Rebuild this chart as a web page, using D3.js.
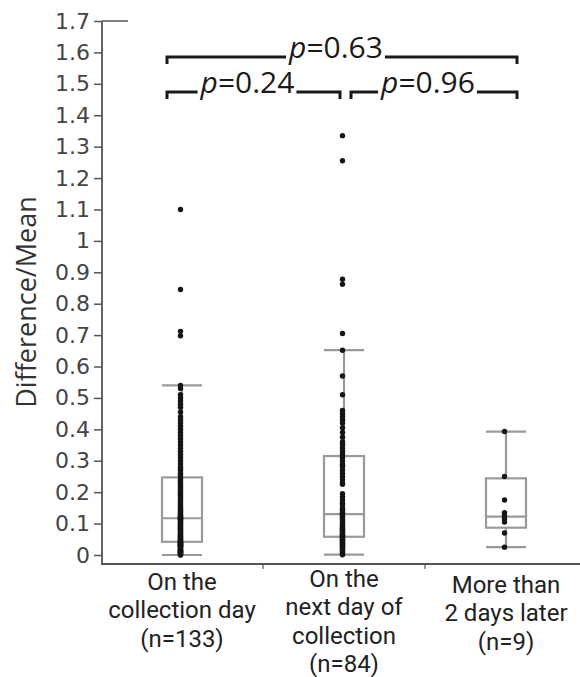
<!DOCTYPE html>
<html>
<head>
<meta charset="utf-8">
<script src="https://cdn.jsdelivr.net/npm/d3@7"></script>
<style>
  html, body { margin: 0; padding: 0; background: #fff; }
  svg { display: block; }
</style>
</head>
<body>
<svg id="chart" width="580" height="677"></svg>
<script>
// Categories and their multi-line axis labels
const categories = ["collection day", "next day", "2+ days later"];
const categoryLines = [
  ["On the", "collection day", "(n=133)"],
  ["On the", "next day of", "collection", "(n=84)"],
  ["More than", "2 days later", "(n=9)"]
];

// Box summaries (quartiles) per category
const q1Values = [0.042, 0.058, 0.087];
const medianValues = [0.117, 0.13, 0.122];
const q3Values = [0.247, 0.315, 0.244];

// Individual observations, Difference/Mean
const sameDay = [
  1.10, 0.845, 0.712, 0.698,
  0.54, 0.53, 0.51, 0.50, 0.49, 0.48, 0.47, 0.455, 0.44, 0.43,
  0.42, 0.41, 0.40, 0.39, 0.38, 0.37, 0.36, 0.35, 0.34, 0.33,
  0.32, 0.31, 0.30, 0.29, 0.28, 0.275, 0.27, 0.26, 0.255,
  0.245, 0.24, 0.235, 0.23, 0.225, 0.22, 0.215, 0.21, 0.205, 0.20,
  0.195, 0.19, 0.185, 0.18, 0.175, 0.17, 0.165, 0.16, 0.155, 0.15,
  0.147, 0.144, 0.14, 0.137, 0.134, 0.13, 0.127, 0.125, 0.123, 0.121,
  0.119, 0.118, 0.117, 0.116,
  0.114, 0.112, 0.11, 0.107, 0.105, 0.102, 0.10, 0.097, 0.095, 0.092,
  0.09, 0.087, 0.085, 0.082, 0.08, 0.077, 0.075, 0.072, 0.07, 0.067,
  0.065, 0.062, 0.06, 0.058, 0.056, 0.054, 0.052, 0.05, 0.048, 0.046,
  0.044, 0.043,
  0.041, 0.04, 0.039, 0.038, 0.037, 0.036, 0.035, 0.034, 0.033, 0.032,
  0.031, 0.03, 0.029, 0.028, 0.027, 0.026, 0.024, 0.022, 0.02, 0.018,
  0.016, 0.015, 0.014, 0.012, 0.011, 0.01, 0.009, 0.008, 0.006, 0.005,
  0.004, 0.002, 0.001, 0.0
];
const nextDay = [
  1.335, 1.255, 0.878, 0.862, 0.705, 0.652, 0.57, 0.51, 0.46, 0.45,
  0.44, 0.43, 0.42, 0.405, 0.39, 0.375, 0.36, 0.35, 0.34, 0.33, 0.32,
  0.31, 0.30, 0.29, 0.285, 0.28, 0.27, 0.26, 0.25, 0.24, 0.23, 0.225,
  0.195, 0.185, 0.175, 0.165, 0.16, 0.15, 0.145, 0.14, 0.135, 0.132,
  0.128, 0.125, 0.12, 0.115, 0.11, 0.105, 0.1, 0.096, 0.092, 0.088,
  0.085, 0.082, 0.079, 0.076, 0.073, 0.07, 0.067, 0.065, 0.063, 0.061, 0.059,
  0.057, 0.055, 0.052, 0.05, 0.047, 0.045, 0.042, 0.04, 0.037, 0.035,
  0.032, 0.03, 0.027, 0.025, 0.022, 0.02, 0.016, 0.012, 0.008, 0.004, 0.001
];
const laterDays = [0.393, 0.25, 0.175, 0.135, 0.125, 0.115, 0.105, 0.07, 0.025];
const observations = [sameDay, nextDay, laterDays];

// Pairwise comparisons
const compareFrom = [0, 0, 1];
const compareTo = [2, 1, 2];
const compareP = ["0.63", "0.24", "0.96"];
const compareRow = [1, 0, 0];

// Axis ticks
const yTicks = d3.range(0, 18).map(i => +(i / 10).toFixed(1));

// ---------- layout ----------
const svg = d3.select("#chart");
const axisX = 102, axisBottom = 564;
const y = d3.scaleLinear().domain([0, 1.7]).range([555, 21]);
const x = d3.scaleBand().domain(categories).range([101, 587]).padding(0);
const cx = i => x(categories[i]) + x.bandwidth() / 2;

const boxW = 40;
const boxStroke = "#9a9a9a";
const axisColor = "#555";
const labelFont = "Open Sans, Noto Sans, sans-serif";
const catFont = "Roboto, Open Sans, sans-serif";

// y axis
const yAxis = d3.axisLeft(y).tickValues(yTicks).tickSize(8).tickPadding(4)
  .tickFormat(d => d === 0 ? "0" : d === 1 ? "1" : d3.format(".1f")(d));
const gy = svg.append("g").attr("transform", `translate(${axisX},0)`).call(yAxis);
gy.select(".domain").remove();
gy.selectAll(".tick line").attr("stroke", axisColor).attr("stroke-width", 1.5);
gy.selectAll(".tick text")
  .attr("font-family", "DejaVu Sans, Verdana, sans-serif")
  .attr("font-size", 22).attr("fill", "#444");
svg.append("line").attr("x1", axisX).attr("x2", axisX)
  .attr("y1", y(1.7)).attr("y2", axisBottom)
  .attr("stroke", axisColor).attr("stroke-width", 1.8);
svg.append("line").attr("x1", axisX).attr("x2", 128)
  .attr("y1", y(1.7)).attr("y2", y(1.7))
  .attr("stroke", axisColor).attr("stroke-width", 1.5);

// x axis with separators between categories
svg.append("line").attr("x1", axisX - 1).attr("x2", 580)
  .attr("y1", axisBottom).attr("y2", axisBottom)
  .attr("stroke", axisColor).attr("stroke-width", 1.8);
categories.slice(1).forEach(c => {
  svg.append("line").attr("x1", x(c)).attr("x2", x(c))
    .attr("y1", axisBottom).attr("y2", axisBottom + 5)
    .attr("stroke", axisColor).attr("stroke-width", 1.2);
});

// y axis title
svg.append("text")
  .attr("transform", `translate(36,302) rotate(-90)`)
  .attr("text-anchor", "middle")
  .attr("font-family", labelFont)
  .attr("font-size", 27).attr("fill", "#333")
  .text("Difference/Mean");

// category labels
const labelTop = [590, 587, 593];
categoryLines.forEach((lines, i) => {
  lines.forEach((ln, k) => {
    svg.append("text")
      .attr("text-anchor", "middle")
      .attr("font-family", catFont)
      .attr("font-size", 24).attr("fill", "#222")
      .attr("x", cx(i)).attr("y", labelTop[i] + k * 28.3)
      .text(ln);
  });
});

// boxes, whiskers, points
observations.forEach((vals, i) => {
  const c = cx(i);
  const iqr = q3Values[i] - q1Values[i];
  const hiFence = q3Values[i] + 1.5 * iqr;
  const loFence = q1Values[i] - 1.5 * iqr;
  const whiskHi = d3.max(vals.filter(v => v <= hiFence));
  const whiskLo = d3.min(vals.filter(v => v >= loFence));
  const g = svg.append("g");
  const stroke = sel => sel.attr("stroke", boxStroke).attr("stroke-width", 2.2).attr("fill", "none");

  g.append("line").attr("x1", c).attr("x2", c).attr("y1", y(whiskHi)).attr("y2", y(q3Values[i])).call(stroke);
  g.append("line").attr("x1", c).attr("x2", c).attr("y1", y(q1Values[i])).attr("y2", y(whiskLo)).call(stroke);
  g.append("line").attr("x1", c - boxW / 2).attr("x2", c + boxW / 2).attr("y1", y(whiskHi)).attr("y2", y(whiskHi)).call(stroke);
  g.append("line").attr("x1", c - boxW / 2).attr("x2", c + boxW / 2).attr("y1", y(whiskLo)).attr("y2", y(whiskLo)).call(stroke);
  g.append("rect").attr("x", c - boxW / 2).attr("width", boxW)
    .attr("y", y(q3Values[i])).attr("height", y(q1Values[i]) - y(q3Values[i])).call(stroke);
  g.append("line").attr("x1", c - boxW / 2).attr("x2", c + boxW / 2)
    .attr("y1", y(medianValues[i])).attr("y2", y(medianValues[i])).call(stroke);

  g.selectAll("circle").data(vals).join("circle")
    .attr("cx", c - 1.5).attr("cy", d => y(d)).attr("r", 2.7)
    .attr("fill", "#151515");
});

// significance brackets
const rowY = [92, 57];
compareP.forEach((p, k) => {
  const a = compareFrom[k], b = compareTo[k];
  const left = cx(a) + (a === 0 ? -15 : 7);
  const right = cx(b) + (b === categories.length - 1 ? 11 : -4);
  const ly = rowY[compareRow[k]];
  const g = svg.append("g");
  const label = g.append("text")
    .attr("x", (left + right) / 2 - 6).attr("y", ly + 1)
    .attr("text-anchor", "middle")
    .attr("font-family", labelFont)
    .attr("font-size", 30).attr("fill", "#1a1a1a");
  label.append("tspan").attr("font-style", "italic").text("p");
  label.append("tspan").text("=" + p);
  const bb = label.node().getBBox();
  const bracket = pts => g.append("path")
    .attr("d", d3.line()(pts))
    .attr("stroke", "#1a1a1a").attr("stroke-width", 3).attr("fill", "none");
  bracket([[left, ly + 7], [left, ly], [bb.x - 2, ly]]);
  bracket([[bb.x + bb.width + 2, ly], [right, ly], [right, ly + 7]]);
});
</script>
</body>
</html>
